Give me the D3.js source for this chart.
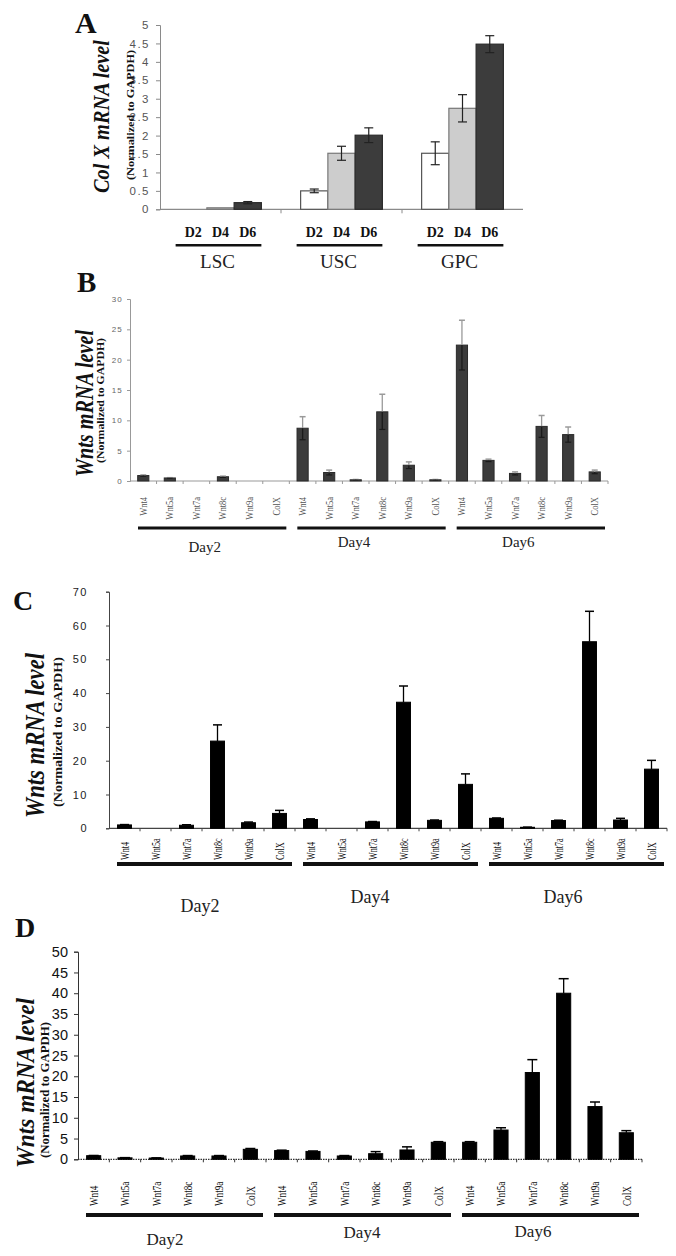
<!DOCTYPE html>
<html><head><meta charset="utf-8">
<script src="https://cdn.jsdelivr.net/npm/d3@7"></script>
<style>body{margin:0;background:#fff}svg{display:block}</style>
</head><body>
<svg id="chart" width="676" height="1256"></svg>
<script>
// ---------- DATA ----------
const panelAGroups = ["LSC", "USC", "GPC"];
const panelADays = ["D2", "D4", "D6"];
const panelAValues = [[0, 0.04, 0.18], [0.5, 1.52, 2.01], [1.52, 2.74, 4.48]];
const panelAErrors = [[0, 0, 0.03], [0.05, 0.19, 0.2], [0.31, 0.37, 0.23]];
const panelATicks = [0, 0.5, 1, 1.5, 2, 2.5, 3, 3.5, 4, 4.5, 5];

const wntCategories = ["Wnt4", "Wnt5a", "Wnt7a", "Wnt8c", "Wnt9a", "ColX"];
const dayGroups = ["Day2", "Day4", "Day6"];

const panelBValues = [[0.9, 0.5, 0, 0.7, 0, 0], [8.7, 1.4, 0.2, 11.4, 2.6, 0.2], [22.4, 3.4, 1.25, 9.0, 7.65, 1.5]];
const panelBErrors = [[0.1, 0.05, 0, 0.1, 0, 0], [1.9, 0.4, 0.05, 2.9, 0.55, 0.05], [4.1, 0.2, 0.25, 1.8, 1.25, 0.3]];
const panelBTicks = [0, 5, 10, 15, 20, 25, 30];

const panelCValues = [[1.0, 0, 0.9, 25.8, 1.65, 4.4], [2.6, 0, 1.9, 37.3, 2.35, 13.0], [2.95, 0.3, 2.3, 55.2, 2.45, 17.5]];
const panelCErrors = [[0.1, 0, 0.15, 4.8, 0.2, 0.9], [0.2, 0, 0.1, 4.8, 0.1, 3.1], [0.1, 0.05, 0.1, 9.0, 0.5, 2.6]];
const panelCTicks = [0, 10, 20, 30, 40, 50, 60, 70];

const panelDValues = [[0.87, 0.35, 0.3, 0.8, 0.8, 2.4], [2.1, 1.9, 0.8, 1.35, 2.25, 4.1], [4.1, 7.05, 20.9, 40.0, 12.7, 6.4]];
const panelDErrors = [[0.05, 0.05, 0.05, 0.1, 0.1, 0.2], [0.1, 0.1, 0.1, 0.5, 0.75, 0.15], [0.15, 0.55, 3.1, 3.5, 1.1, 0.5]];
const panelDTicks = [0, 5, 10, 15, 20, 25, 30, 35, 40, 45, 50];

// ---------- DRAWING ----------
const SERIF = "'Liberation Serif','Times New Roman',serif";
const SANS = "'Liberation Sans',Arial,sans-serif";
const svg = d3.select("#chart");

function panelLetter(txt, x, y, size) {
  svg.append("text").attr("x", x).attr("y", y).text(txt)
    .attr("font-family", SERIF).attr("font-weight", "bold").attr("font-size", size).attr("fill", "#111");
}
function yTitles(t) {
  svg.append("text").attr("transform", `translate(${t.tx},${t.ty}) rotate(-90)`)
    .attr("text-anchor", "middle").attr("font-family", SERIF).attr("font-weight", "bold")
    .attr("font-style", "italic").attr("font-size", t.tsize).attr("fill", "#111")
    .attr("textLength", t.tlen).attr("lengthAdjust", "spacingAndGlyphs").text(t.title);
  svg.append("text").attr("transform", `translate(${t.sx},${t.sy}) rotate(-90)`)
    .attr("text-anchor", "middle").attr("font-family", SERIF).attr("font-weight", "bold")
    .attr("font-size", t.ssize).attr("fill", "#111")
    .attr("textLength", t.slen).attr("lengthAdjust", "spacingAndGlyphs").text("(Normalized to GAPDH)");
}

// ----- Panel A -----
(function () {
  const L = { x0: 160, x1: 523, yTop: 25, yBase: 209.3 };
  const y = d3.scaleLinear().domain([0, 5]).range([L.yBase, L.yTop]);
  const gx = d3.scaleBand().domain(panelAGroups).range([L.x0, L.x1]);
  const dx = d3.scaleBand().domain(panelADays).range([0, gx.bandwidth()]).paddingInner(0).paddingOuter(0.72);
  const fills = ["#ffffff", "#cdcdcd", "#3c3c3c"];
  const strokes = ["#555", "#777", "#2a2a2a"];
  const g = svg.append("g");

  const ya = g.append("g").attr("transform", `translate(${L.x0},0)`)
    .call(d3.axisLeft(y).tickValues(panelATicks).tickSize(4).tickPadding(6).tickFormat(d3.format("~g")));
  ya.select(".domain").attr("stroke", "#8a8a8a");
  ya.selectAll(".tick line").attr("stroke", "#8a8a8a");
  ya.selectAll(".tick text").attr("font-family", SANS).attr("font-size", 11.5).attr("fill", "#555").attr("letter-spacing", 1.5);

  g.append("line").attr("x1", L.x0).attr("x2", L.x1).attr("y1", y(0)).attr("y2", y(0)).attr("stroke", "#8a8a8a").attr("stroke-width", 1.2);
  g.selectAll(".bt").data(panelAGroups.slice(1)).join("line")
    .attr("x1", d => gx(d)).attr("x2", d => gx(d)).attr("y1", y(0)).attr("y2", y(0) + 4).attr("stroke", "#8a8a8a");

  panelAGroups.forEach((grp, gi) => {
    const gg = g.append("g").attr("transform", `translate(${gx(grp)},0)`);
    panelADays.forEach((day, di) => {
      const v = panelAValues[gi][di], e = panelAErrors[gi][di];
      const bx = dx(day), bw = dx.bandwidth();
      if (v > 0) {
        gg.append("rect").attr("x", bx).attr("y", y(v)).attr("width", bw).attr("height", y(0) - y(v))
          .attr("fill", fills[di]).attr("stroke", strokes[di]).attr("stroke-width", 1.2);
      }
      if (e > 0) {
        const cx = bx + bw / 2;
        gg.append("line").attr("x1", cx).attr("x2", cx).attr("y1", y(v + e)).attr("y2", y(Math.max(0, v - e))).attr("stroke", "#222").attr("stroke-width", 1.2);
        [v + e, Math.max(0, v - e)].forEach(t => gg.append("line").attr("x1", cx - 4.5).attr("x2", cx + 4.5)
          .attr("y1", y(t)).attr("y2", y(t)).attr("stroke", "#222").attr("stroke-width", 1.2));
      }
      gg.append("text").attr("x", bx + bw / 2).attr("y", 237).attr("text-anchor", "middle")
        .attr("font-family", SERIF).attr("font-weight", "bold").attr("font-size", 14).attr("fill", "#111").text(day);
    });
    const first = dx(panelADays[0]), last = dx(panelADays[2]) + dx.bandwidth();
    gg.append("rect").attr("x", first - 4).attr("y", 244).attr("width", last - first + 4).attr("height", 2.5).attr("fill", "#111");
    gg.append("text").attr("x", dx(panelADays[1]) + dx.bandwidth() / 2 - 3).attr("y", 268).attr("text-anchor", "middle")
      .attr("font-family", SERIF).attr("font-size", 19).attr("fill", "#222").text(grp);
  });
  panelLetter("A", 75, 33, 30);
  yTitles({ title: "Col X mRNA level", tx: 109, ty: 116.5, tsize: 23, tlen: 153, sx: 134, sy: 115, ssize: 11, slen: 130 });
})();

// ----- Wnt panels -----
function drawWnt(P) {
  const y = d3.scaleLinear().domain([0, P.ymax]).range([P.yBase, P.yTop]);
  const cats = [];
  dayGroups.forEach(d => wntCategories.forEach(c => cats.push(d + "|" + c)));
  const x = d3.scaleBand().domain(cats).range([P.x0, P.x1]).paddingInner(P.pad).paddingOuter(P.pad / 2);
  const g = svg.append("g");

  const ya = g.append("g").attr("transform", `translate(${P.x0},0)`)
    .call(d3.axisLeft(y).tickValues(P.ticks).tickSize(P.tickSize).tickPadding(P.tickPad).tickFormat(d3.format("d")));
  ya.select(".domain").attr("stroke", P.axisColor).attr("stroke-width", 1);
  ya.selectAll(".tick line").attr("stroke", P.axisColor);
  ya.selectAll(".tick text").attr("font-family", SANS).attr("font-size", P.tickFont)
    .attr("fill", P.tickColor).attr("letter-spacing", P.tickSpacing);

  g.append("line").attr("x1", P.x0).attr("x2", P.x1).attr("y1", y(0)).attr("y2", y(0))
    .attr("stroke", P.axisColor).attr("stroke-width", 1.2).attr("stroke-dasharray", P.dash || null);
  const bounds = cats.map(c => x(c) - x.step() * P.pad / 2).slice(1).concat([P.x1]);
  g.selectAll(".bt").data(bounds).join("line").attr("x1", d => d).attr("x2", d => d)
    .attr("y1", y(0)).attr("y2", y(0) + 3).attr("stroke", P.axisColor);

  dayGroups.forEach((day, di) => {
    wntCategories.forEach((cat, ci) => {
      const key = day + "|" + cat;
      const v = P.values[di][ci], e = P.errors[di][ci];
      const bx = x(key), bw = x.bandwidth(), cx = bx + bw / 2;
      if (v > 0) {
        g.append("rect").attr("x", bx).attr("y", y(v)).attr("width", bw).attr("height", y(0) - y(v))
          .attr("fill", P.barFill).attr("stroke", P.barStroke).attr("stroke-width", 1);
      }
      if (e > 0 && v > 0) {
        g.append("line").attr("x1", cx).attr("x2", cx).attr("y1", y(v)).attr("y2", y(v + e))
          .attr("stroke", P.errColor).attr("stroke-width", 1.3);
        g.append("line").attr("x1", cx - P.cap / 2).attr("x2", cx + P.cap / 2).attr("y1", y(v + e)).attr("y2", y(v + e))
          .attr("stroke", P.errColor).attr("stroke-width", 1.5);
        if (P.errDown) {
          g.append("line").attr("x1", cx).attr("x2", cx).attr("y1", y(v)).attr("y2", y(Math.max(0, v - e)))
            .attr("stroke", "#1a1a1a").attr("stroke-width", 1.3);
          g.append("line").attr("x1", cx - P.cap / 2).attr("x2", cx + P.cap / 2).attr("y1", y(Math.max(0, v - e))).attr("y2", y(Math.max(0, v - e)))
            .attr("stroke", "#1a1a1a").attr("stroke-width", 1.2);
        }
      }
      g.append("text").attr("transform", `translate(${cx},${P.labelPos}) rotate(-90) scale(${P.labelScale},1)`)
        .attr("text-anchor", P.labelAnchor).attr("dy", "0.35em").attr("font-family", SERIF)
        .attr("font-size", P.labelFont).attr("fill", P.labelColor).text(cat);
    });
    const s = x(day + "|" + wntCategories[0]) - x.step() * P.pad / 2;
    const e = x(day + "|" + wntCategories[5]) + x.bandwidth() + x.step() * P.pad / 2;
    g.append("rect").attr("x", s + 8).attr("y", P.lineY - P.lineW / 2).attr("width", e - s - 11).attr("height", P.lineW).attr("fill", "#111");
    g.append("text").attr("x", (s + e) / 2 + P.dayDx[di]).attr("y", P.dayY[di]).attr("text-anchor", "middle")
      .attr("font-family", SERIF).attr("font-size", P.dayFont).attr("fill", "#222").text(day);
  });
  panelLetter(P.letter, P.letterX, P.letterY, P.letterSize);
  yTitles(P.titles);
}

drawWnt({
  values: panelBValues, errors: panelBErrors, ticks: panelBTicks, ymax: 30,
  x0: 130, x1: 608, yTop: 299, yBase: 481, pad: 0.58,
  tickSize: 3, tickPad: 4, tickFont: 8, tickColor: "#666", tickSpacing: 1.2, axisColor: "#999",
  barFill: "#3b3b3b", barStroke: "#2a2a2a", errColor: "#9a9a9a", cap: 6, errDown: true,
  labelPos: 497, labelAnchor: "end", labelFont: 10, labelScale: 0.85, labelColor: "#555",
  lineY: 528, lineW: 3, dayDx: [-5, -15, -10], dayY: [552, 547, 547], dayFont: 15,
  letter: "B", letterX: 77, letterY: 292, letterSize: 29,
  titles: { title: "Wnts mRNA level", tx: 93, ty: 403.5, tsize: 25, tlen: 147, sx: 104, sy: 400.5, ssize: 11, slen: 125 }
});

drawWnt({
  values: panelCValues, errors: panelCErrors, ticks: panelCTicks, ymax: 70,
  x0: 109, x1: 667, yTop: 591.7, yBase: 828.3, pad: 0.55,
  tickSize: 3, tickPad: 18, tickFont: 11, tickColor: "#222", tickSpacing: 1.5, axisColor: "#444",
  barFill: "#000", barStroke: "#000", errColor: "#000", cap: 9, errDown: false,
  labelPos: 860, labelAnchor: "start", labelFont: 12, labelScale: 0.68, labelColor: "#111",
  lineY: 864, lineW: 4, dayDx: [-2, -18, -11], dayY: [912, 903, 903], dayFont: 18,
  letter: "C", letterX: 13, letterY: 610, letterSize: 28,
  titles: { title: "Wnts mRNA level", tx: 44, ty: 735.5, tsize: 28, tlen: 165, sx: 62, sy: 732, ssize: 13, slen: 150 }
});

drawWnt({
  values: panelDValues, errors: panelDErrors, ticks: panelDTicks, ymax: 50,
  x0: 78, x1: 642, yTop: 951.7, yBase: 1159.3, pad: 0.55,
  tickSize: 4, tickPad: 6, tickFont: 14.5, tickColor: "#111", tickSpacing: 0, axisColor: "#333", dash: "1.5,1",
  barFill: "#000", barStroke: "#000", errColor: "#000", cap: 10, errDown: false,
  labelPos: 1206, labelAnchor: "start", labelFont: 12, labelScale: 0.76, labelColor: "#111",
  lineY: 1215, lineW: 4, dayDx: [-7, 2, -15], dayY: [1245, 1238, 1237], dayFont: 17,
  letter: "D", letterX: 15, letterY: 937, letterSize: 28,
  titles: { title: "Wnts mRNA level", tx: 34, ty: 1083, tsize: 25, tlen: 170, sx: 49, sy: 1090, ssize: 12, slen: 136 }
});
</script>
</body></html>
